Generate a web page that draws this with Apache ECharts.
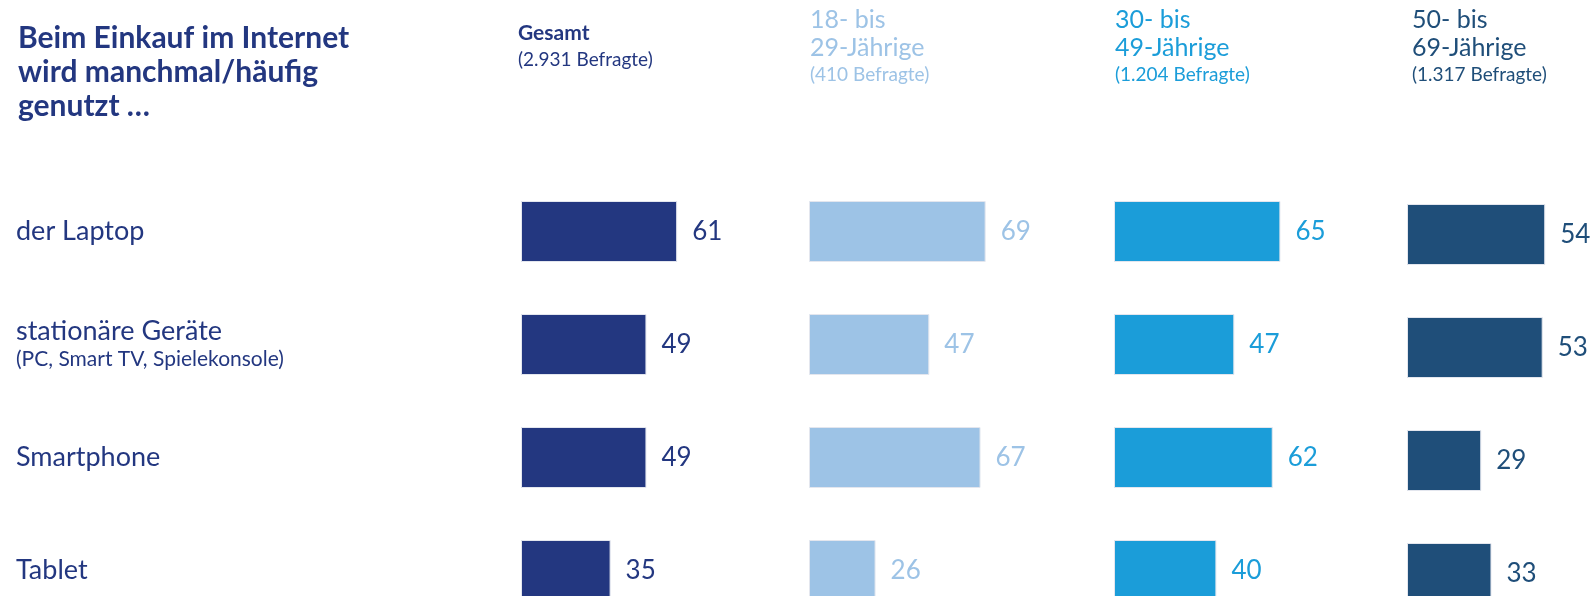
<!DOCTYPE html>
<html>
<head>
<meta charset="utf-8">
<script src="https://cdn.jsdelivr.net/npm/echarts@6/dist/echarts.min.js"></script>
<style>
	html, body { margin: 0; padding: 0; background: #fff; }
	#chart { width: 1593px; height: 596px; }
</style>
</head>
<body>
<div id="chart"></div>
<script>
	// data
	var categories = ['der Laptop', 'stationäre Geräte', 'Smartphone', 'Tablet'];
	var categoryNotes = ['', '(PC, Smart TV, Spielekonsole)', '', ''];
	var groupNames = ['Gesamt', '18- bis\n29-Jährige', '30- bis\n49-Jährige', '50- bis\n69-Jährige'];
	var groupCounts = ['(2.931 Befragte)', '(410 Befragte)', '(1.204 Befragte)', '(1.317 Befragte)'];
	var valuesGesamt = [61, 49, 49, 35];
	var values18to29 = [69, 47, 67, 26];
	var values30to49 = [65, 47, 62, 40];
	var values50to69 = [54, 53, 29, 33];

	var FONT = 'Lato, "Noto Sans", sans-serif';
	var NAVY = '#233780';
	var colors = [NAVY, '#9dc3e6', '#1b9dd9', '#1f4e79'];
	var gridLefts = [521, 809, 1114, 1407];
	var gridTops = [175, 175, 175, 178];
	var headLefts = [518, 810, 1115, 1412];
	var allValues = [valuesGesamt, values18to29, values30to49, values50to69];

	var option = {
		backgroundColor: '#fff',
		animation: false,
		title: [],
		grid: [],
		xAxis: [],
		yAxis: [],
		series: []
	};

	// main heading
	option.title.push({
		text: 'Beim Einkauf im Internet\nwird manchmal/häufig\ngenutzt …',
		left: 18,
		top: 21,
		padding: 0,
		textStyle: {
			fontFamily: FONT,
			fontWeight: 'bold',
			fontSize: 30,
			lineHeight: 34,
			color: NAVY
		}
	});

	for(var i = 0; i < 4; i++){

		var col = colors[i];
		var headText;
		if(i == 0)
			headText = '{h|' + groupNames[i] + '}\n{s|' + groupCounts[i] + '}';
		else
			headText = groupNames[i].split('\n').map(function(t){ return '{a|' + t + '}'; }).join('\n') + '\n{s|' + groupCounts[i] + '}';

		option.title.push({
			text: headText,
			left: headLefts[i],
			top: i == 0 ? 19 : 6,
			padding: 0,
			textStyle: {
				fontFamily: FONT,
				fontWeight: 'normal',
				color: col,
				rich: {
					h: { fontFamily: FONT, fontWeight: 'bold', fontSize: 21, lineHeight: 28, color: col },
					a: { fontFamily: FONT, fontWeight: 'normal', fontSize: 25, lineHeight: 28, color: col },
					s: { fontFamily: FONT, fontWeight: 'normal', fontSize: 19, lineHeight: 25, color: col }
				}
			}
		});

		option.grid.push({
			left: gridLefts[i],
			top: gridTops[i],
			width: 256,
			height: 452,
			outerBoundsMode: 'none',
			containLabel: false
		});

		option.xAxis.push({
			type: 'value',
			gridIndex: i,
			min: 0,
			max: 100,
			show: false
		});

		option.yAxis.push({
			type: 'category',
			gridIndex: i,
			data: categories,
			inverse: true,
			axisLine: { show: false },
			axisTick: { show: false },
			splitLine: { show: false },
			axisLabel: {
				show: i == 0,
				align: 'left',
				margin: gridLefts[0] - 16,
				fontFamily: FONT,
				formatter: function(value, idx){
					var txt = '{c|' + value + '}';
					if(categoryNotes[idx])
						txt += '\n{n|' + categoryNotes[idx] + '}';
					return txt;
				},
				rich: {
					c: { fontFamily: FONT, fontSize: 27, lineHeight: 30, color: NAVY },
					n: { fontFamily: FONT, fontSize: 21, lineHeight: 27, color: NAVY }
				}
			}
		});

		option.series.push({
			type: 'bar',
			name: groupNames[i],
			xAxisIndex: i,
			yAxisIndex: i,
			data: allValues[i],
			barWidth: 61,
			itemStyle: {
				color: col,
				borderColor: '#e3e6ee',
				borderWidth: 1
			},
			label: {
				show: true,
				position: 'right',
				distance: 15,
				fontFamily: FONT,
				fontSize: 26,
				color: col
			}
		});
	}

	var chart = echarts.init(document.getElementById('chart'), null, { renderer: 'canvas' });
	chart.setOption(option);
</script>
</body>
</html>
